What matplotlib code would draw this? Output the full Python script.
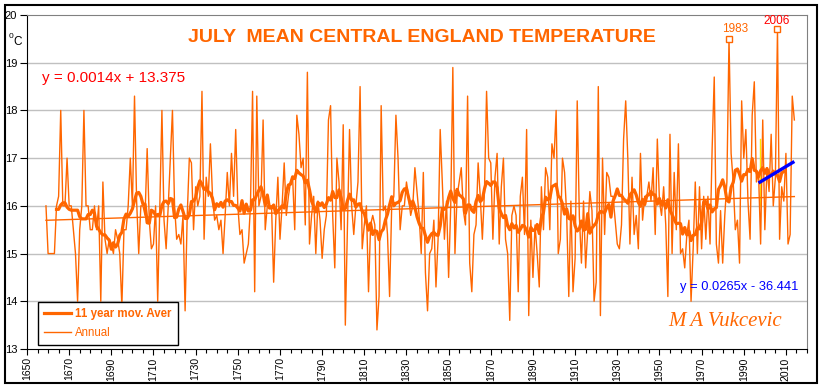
import numpy as np
import matplotlib
matplotlib.use("Agg")
import matplotlib.pyplot as plt
from matplotlib.patches import Rectangle
from matplotlib.ticker import MultipleLocator

plt.rcParams['font.family'] = ['Liberation Sans', 'DejaVu Sans']

# ---------------- data ----------------
start_year = 1659
july_temps = [
    16.0,
    15.0, 15.0, 15.0, 15.0, 16.0, 16.2, 18.0, 16.0, 16.0, 17.0,   # 1660s
    16.0, 16.0, 15.5, 15.0, 14.0, 15.5, 16.0, 18.0, 16.0, 16.0,   # 1670s
    15.5, 15.5, 16.0, 15.5, 16.0, 14.0, 16.5, 15.3, 15.0, 15.3,   # 1680s
    15.2, 15.0, 15.5, 15.3, 15.0, 13.9, 15.5, 15.5, 16.0, 17.0,   # 1690s
    16.0, 18.3, 16.1, 15.0, 16.0, 16.0, 15.8, 17.2, 15.7, 15.1,   # 1700s
    15.2, 16.0, 14.0, 16.0, 18.0, 15.7, 15.1, 16.0, 17.0, 18.0,   # 1710s
    16.0, 15.3, 15.4, 15.2, 15.8, 13.8, 15.8, 17.0, 16.9, 15.5,   # 1720s
    16.4, 16.0, 16.2, 18.4, 15.3, 16.6, 16.2, 17.3, 16.2, 15.7,   # 1730s
    15.8, 15.5, 15.7, 15.0, 15.8, 16.7, 16.0, 17.1, 16.2, 17.6,   # 1740s
    16.0, 15.4, 15.5, 14.8, 15.0, 15.2, 16.0, 18.4, 14.2, 18.3,   # 1750s
    16.0, 16.2, 17.8, 15.5, 16.0, 16.0, 16.0, 14.4, 15.7, 16.6,   # 1760s
    15.3, 16.0, 16.9, 15.8, 16.2, 16.5, 16.6, 15.5, 17.9, 17.5,   # 1770s
    16.8, 17.0, 15.6, 18.8, 15.2, 15.8, 16.2, 15.0, 16.1, 15.7,   # 1780s
    14.9, 15.5, 15.8, 17.8, 18.1, 15.8, 14.7, 17.0, 16.5, 15.5,   # 1790s
    17.7, 13.5, 15.5, 17.6, 16.0, 15.4, 16.0, 16.5, 18.5, 15.1,   # 1800s
    15.6, 16.0, 14.2, 15.6, 15.8, 15.6, 13.4, 14.1, 18.1, 15.9,   # 1810s
    16.0, 15.4, 14.1, 16.0, 16.2, 17.9, 17.0, 15.5, 16.0, 16.0,   # 1820s
    16.5, 16.2, 15.8, 16.0, 16.8, 16.3, 15.8, 15.0, 16.7, 14.6,   # 1830s
    13.8, 15.0, 15.1, 15.7, 14.3, 15.3, 17.6, 16.5, 15.3, 16.1,   # 1840s
    14.5, 16.0, 18.9, 15.0, 16.2, 16.5, 16.8, 15.9, 15.6, 18.3,   # 1850s
    14.8, 14.2, 15.4, 15.6, 16.9, 16.2, 15.3, 16.3, 18.4, 17.0,   # 1860s
    16.9, 15.3, 16.6, 17.1, 15.2, 16.4, 17.0, 15.3, 15.0, 13.6,   # 1870s
    15.8, 16.0, 15.8, 14.2, 16.2, 16.6, 15.4, 17.6, 13.7, 15.7,   # 1880s
    14.5, 15.6, 15.0, 14.3, 16.4, 15.5, 16.8, 16.6, 15.5, 17.3,   # 1890s
    17.0, 18.0, 15.0, 15.3, 17.0, 16.7, 15.8, 14.1, 16.1, 14.2,   # 1900s
    14.9, 18.2, 15.8, 14.8, 16.1, 14.7, 15.5, 16.3, 15.9, 14.0,   # 1910s
    14.4, 18.5, 13.7, 17.0, 15.4, 16.7, 16.6, 16.2, 16.2, 15.7,   # 1920s
    15.2, 15.1, 15.6, 17.4, 18.2, 17.0, 15.2, 16.6, 15.4, 15.8,   # 1930s
    15.1, 17.1, 15.7, 16.2, 16.2, 16.5, 16.1, 16.8, 15.4, 17.4,   # 1940s
    16.1, 15.8, 16.4, 15.6, 14.1, 17.5, 15.0, 16.7, 15.5, 17.3,   # 1950s
    15.0, 15.1, 14.7, 15.4, 15.7, 14.0, 15.1, 16.5, 15.0, 16.4,   # 1960s
    15.1, 16.2, 15.3, 16.2, 15.2, 17.2, 18.7, 15.2, 14.8, 15.9,   # 1970s
    14.8, 15.8, 16.5, 19.5, 17.1, 16.5, 15.5, 15.7, 14.8, 18.2,   # 1980s
    17.0, 17.6, 16.1, 15.3, 17.9, 18.6, 16.5, 16.7, 15.2, 17.8,   # 1990s
    15.5, 16.8, 16.3, 17.5, 16.0, 16.6, 19.7, 15.3, 16.4, 16.1,   # 2000s
    17.1, 15.2, 15.4, 18.3, 17.8,                                 # 2010s
]
years = np.arange(start_year, start_year + len(july_temps))
temps = np.array(july_temps)

ma_window = 11
trend_all = (0.0014, 13.375)          # y = 0.0014x + 13.375
trend_recent = (0.0265, -36.441)      # y = 0.0265x - 36.441
recent_years = [1997, 2014]
highlight_years = [1983, 2006]

x_ticks = list(range(1650, 2011, 20))
y_ticks = list(range(13, 21))

# ---------------- derived ----------------
ma = np.convolve(temps, np.ones(ma_window) / ma_window, mode='valid')
ma_years = years[ma_window // 2: len(years) - ma_window // 2]

ORANGE = '#FF6600'

W, H = 823, 389
fig = plt.figure(figsize=(W / 100, H / 100), dpi=100)
L, R, T, B = 27, 807, 15, 349
ax = fig.add_axes([L / W, 1 - B / H, (R - L) / W, (B - T) / H])

ax.set_xlim(1650, 2020)
ax.set_ylim(13, 20)

for yv in y_ticks[1:-1]:
    ax.axhline(yv, color='#C0C0C0', lw=1.0, zorder=0)

# yellow marker line behind data
ax.plot([1997.8, 1997.8], [16.0, 17.4], color='#FFE800', lw=1.0, zorder=1)

annual_line, = ax.plot(years, temps, color=ORANGE, lw=1.0, zorder=2, label='Annual')
ma_line, = ax.plot(ma_years, ma, color=ORANGE, lw=2.3, zorder=3, label='11 year mov. Aver')
ax.plot(years, trend_all[0] * years + trend_all[1], color=ORANGE, lw=1.0, zorder=3)
ry = np.array(recent_years, dtype=float)
ax.plot(ry, trend_recent[0] * ry + trend_recent[1], color='#0000FF', lw=2.4, zorder=4,
        solid_capstyle='butt')

# highlighted years
for yr, col, off in zip(highlight_years, [ORANGE, '#FF0000'], [(6, 10), (-1, 8)]):
    v = temps[years == yr][0]
    ax.plot([yr], [v], marker='s', ms=5, mfc='white', mec=ORANGE, mew=1.0, zorder=5,
            clip_on=False)
    ax.annotate(str(yr), (yr, v), xytext=off, textcoords='offset pixels',
                ha='center', va='center', color=col, fontsize=8.5, zorder=6)

# axes styling
for s in ['top', 'right']:
    ax.spines[s].set_color('#808080')
for s in ['left', 'bottom']:
    ax.spines[s].set_color('black')
ax.set_xticks(x_ticks)
ax.xaxis.set_minor_locator(MultipleLocator(5))
ax.set_xticklabels([str(t) for t in x_ticks], rotation=90, fontsize=7.5)
ax.set_yticks(y_ticks)
ax.set_yticklabels([str(t) for t in y_ticks], fontsize=8)
ax.tick_params(axis='x', which='major', direction='out', length=4, width=0.8, pad=2)
ax.tick_params(axis='x', which='minor', direction='out', length=3, width=0.8)
ax.tick_params(axis='y', which='major', direction='out', length=5, width=0.8, pad=2)

# legend
leg = ax.legend(handles=[ma_line, annual_line], loc='lower left',
                bbox_to_anchor=(0.014, 0.012), borderaxespad=0, fontsize=8.3,
                frameon=True, fancybox=False, edgecolor='black', framealpha=1,
                handlelength=2.3, handletextpad=0.4, labelspacing=0.55,
                borderpad=0.55)
leg.get_frame().set_linewidth(1.0)
for t in leg.get_texts():
    t.set_color(ORANGE)
leg.get_texts()[0].set_fontweight('bold')

def ftext(px, py, s, **kw):
    fig.text(px / W, 1 - py / H, s, **kw)

ftext(422, 38, 'JULY  MEAN CENTRAL ENGLAND TEMPERATURE', ha='center', va='center',
      fontsize=14, fontweight='bold', color=ORANGE)
ftext(42, 78, 'y = 0.0014x + 13.375', ha='left', va='center', fontsize=11, color='#FF0000')
ftext(680, 287, 'y = 0.0265x - 36.441', ha='left', va='center', fontsize=9.3, color='#0000FF')
ftext(725, 322, 'M A Vukcevic', ha='center', va='center', fontsize=15,
      family='Liberation Serif', style='italic', color=ORANGE)
ftext(9, 37, '0', ha='left', va='center', fontsize=6)
ftext(13, 42, 'C', ha='left', va='center', fontsize=8.5)

# outer chart border
fig.patches.append(Rectangle((5 / W, 1 - 383 / H), 812 / W, 378 / H, transform=fig.transFigure,
                             fill=False, edgecolor='black', lw=1.5))

fig.savefig('out.png', dpi=100)
